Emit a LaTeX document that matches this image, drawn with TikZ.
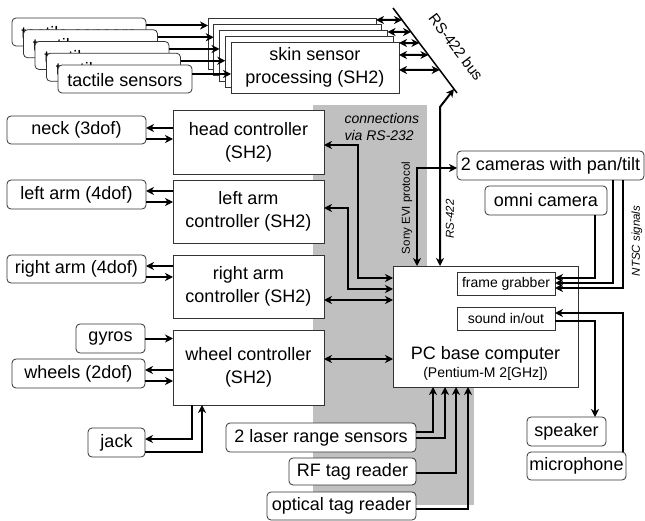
\documentclass[tikz,border=0pt]{standalone}
\usepackage{fontspec}
\setmainfont{Liberation Sans}
\usetikzlibrary{arrows.meta,calc}
\newcommand\fbig{\fontsize{18}{23}\selectfont}
\newcommand\fsmall{\fontsize{14}{17}\selectfont}
\newcommand\flab{\fontsize{11.5}{13}\selectfont}
\newcommand\fbus{\fontsize{15}{17}\selectfont}
\definecolor{bandgray}{RGB}{192,192,192}
\begin{document}
\begin{tikzpicture}[x=1pt,y=-1pt,
  box/.style={draw=black!80, line width=0.8pt, fill=white, inner sep=0pt, outer sep=0pt, align=center, font=\fbig},
  rbox/.style={box, rounded corners=4pt},
  tbox/.style={draw=black!80, line width=0.8pt, fill=white, inner sep=0pt, outer sep=0pt, rounded corners=4pt, font=\fbig, text height=16pt, text depth=0pt, minimum width=134pt, minimum height=28pt},
  sbox/.style={box, font=\fsmall},
  tip/.tip={Stealth[length=8pt,width=8pt,inset=2.5pt]},
  arr/.style={line width=2pt, -tip},
  darr/.style={line width=2pt, tip-tip},
  tarr/.style={line width=1.8pt, -tip},
]
\useasboundingbox (0,0) rectangle (645,521);

% gray band
\fill[bandgray] (313,105) rectangle (427,300);
\fill[bandgray] (313,300) rectangle (474,505);

% skin sensor processing stack
\foreach \i in {0,...,3} {
  \node[box, minimum width=168pt, minimum height=51pt] (s\i) at ({292+5.75*\i},{43.5+6*\i}) {};
}
\node[box, minimum width=168pt, minimum height=51pt] (s4) at (315,67.5) {skin sensor\\processing (SH2)};

% tactile sensors stack
\foreach \i in {0,...,4} {
  \node[tbox] (t\i) at ({79+11.5*\i},{32+11.75*\i}) {tactile sensors};
}
\foreach \i in {0,...,3} {
  \coordinate (ta\i) at ([yshift=6.5pt]t\i.east);
  \draw[arr] (ta\i) -- (ta\i -| s\i.west);
}
\coordinate (ta4) at ([yshift=5pt]t4.east);
\draw[arr] (ta4) -- (ta4 -| s4.west);

% RS-422 bus
\coordinate (busA) at (393,8);
\coordinate (busB) at (457,93);
\draw[line width=1.5pt] (busA) -- (busB);
\node[font=\fbus, rotate=-53] (buslabel) at (456,47) {RS-422 bus};
\draw[darr] ([yshift=-2pt]s0.north east) -- ($(busA)!0.141!(busB)$);
\draw[darr] ([yshift=-2pt]s2.north east) -- ($(busA)!0.282!(busB)$);
\draw[darr] ([yshift=-1pt]s4.north east) -- ($(busA)!0.412!(busB)$);
\draw[darr] ([yshift=-13pt]s4.north east) -- ($(busA)!0.553!(busB)$);
\draw[darr] ([yshift=-28pt]s4.north east) -- ($(busA)!0.729!(busB)$);

% controllers
\node[box, minimum width=151pt, minimum height=64pt] (head) at (248.5,142) {head controller\\(SH2)};
\node[box, minimum width=151pt, minimum height=63pt] (leftc) at (248.5,211.5) {left arm\\controller (SH2)};
\node[box, minimum width=151pt, minimum height=63pt] (rightc) at (248.5,286.5) {right arm\\controller (SH2)};
\node[box, minimum width=151pt, minimum height=75pt] (wheelc) at (248.5,367.5) {wheel controller\\(SH2)};

% left devices
\node[rbox, minimum width=139pt, minimum height=28pt] (neck) at (76.5,130) {neck (3dof)};
\node[rbox, minimum width=139pt, minimum height=29pt] (larm) at (76.5,194.5) {left arm (4dof)};
\node[rbox, minimum width=139pt, minimum height=28pt] (rarm) at (76.5,269) {right arm (4dof)};
\node[rbox, minimum width=69pt, minimum height=29pt] (gyros) at (110.5,338.5) {gyros};
\node[rbox, minimum width=133pt, minimum height=29pt] (wheels) at (78.5,373.5) {wheels (2dof)};
\node[rbox, minimum width=57pt, minimum height=29pt] (jack) at (116.5,442.5) {jack};

\coordinate (n1) at ([yshift=2pt]neck.east);
\coordinate (n2) at ([yshift=-9pt]neck.east);
\draw[arr] (n1 -| head.west) -- (n1);
\draw[arr] (n2) -- (n2 -| head.west);
\coordinate (l1) at ([yshift=3.5pt]larm.east);
\coordinate (l2) at ([yshift=-7.5pt]larm.east);
\draw[arr] (l1 -| leftc.west) -- (l1);
\draw[arr] (l2) -- (l2 -| leftc.west);
\coordinate (r1) at ([yshift=3pt]rarm.east);
\coordinate (r2) at ([yshift=-8pt]rarm.east);
\draw[arr] (r1 -| rightc.west) -- (r1);
\draw[arr] (r2) -- (r2 -| rightc.west);
\draw[arr] (gyros.east) -- (gyros.east -| wheelc.west);
\coordinate (w1) at ([yshift=3.5pt]wheels.east);
\coordinate (w2) at ([yshift=-7.5pt]wheels.east);
\draw[arr] (w1 -| wheelc.west) -- (w1);
\draw[arr] (w2) -- (w2 -| wheelc.west);
\coordinate (j1) at ([yshift=3.5pt]jack.east);
\coordinate (j2) at ([yshift=-9.5pt]jack.east);
\draw[arr] ([xshift=-56.5pt]wheelc.south) |- (j1);
\draw[arr] (j2) -| ([xshift=-46.5pt]wheelc.south);

% PC
\node[box, minimum width=185pt, minimum height=121pt] (pc) at (485.5,326.5) {};
\node[anchor=base, font=\fbig] (pct1) at (485.5,359) {PC base computer};
\node[anchor=base, font=\fsmall] (pct2) at (485.5,377) {(Pentium-M 2[GHz])};
\node[sbox, minimum width=98pt, minimum height=23pt] (fg) at (506,283.5) {frame grabber};
\node[sbox, minimum width=98pt, minimum height=23pt] (sound) at (506,318.5) {sound in/out};

% controllers <-> PC
\coordinate (h1) at ([yshift=-3pt]head.east);
\coordinate (hx) at (358,0);
\coordinate (p1) at ([yshift=48.5pt]pc.west);
\draw[darr] (h1) -- (h1 -| hx) -- (hx |- p1) -- (p1);
\coordinate (la1) at ([yshift=3.5pt]leftc.east);
\coordinate (lx) at (348,0);
\coordinate (p2) at ([yshift=37.5pt]pc.west);
\draw[darr] (la1) -- (la1 -| lx) -- (lx |- p2) -- (p2);
\coordinate (ra1) at ([yshift=-13.5pt]rightc.east);
\draw[darr] (ra1) -- (ra1 -| pc.west);
\coordinate (wa1) at ([yshift=8.5pt]wheelc.east);
\draw[darr] (wa1) -- (wa1 -| pc.west);

\node[anchor=west, align=left, font=\fsmall\itshape] (conn) at (341,126.5) {connections\\via RS-232};

% cameras
\node[rbox, minimum width=187pt, minimum height=29pt] (cams) at (550.5,165.5) {2 cameras with pan/tilt};
\node[rbox, minimum width=122pt, minimum height=29pt] (omni) at (546,200.5) {omni camera};
\draw[darr] ([xshift=-68.5pt]pc.north) |- ([yshift=-2.5pt]cams.west);
\node[font=\flab, rotate=90] (sony) at (407,208) {Sony EVI protocol};
\coordinate (rsp) at ([xshift=-45.5pt]pc.north);
\coordinate (rsk) at (440,107);
\coordinate (rsb) at ($(busA)!0.953!(busB)$);
\draw[darr] (rsp) -- (rsp |- rsk) -- (rsb);
\node[font=\flab\itshape, rotate=90] (rslab) at (450,219) {RS-422};

\draw[tarr] ([xshift=49pt]omni.south) |- ([yshift=5.5pt]fg.east);
\draw[tarr] ([xshift=62.5pt]cams.south) |- ([yshift=0.5pt]fg.east);
\draw[tarr] ([xshift=72.5pt]cams.south) |- ([yshift=-4.5pt]fg.east);
\node[font=\flab\itshape, rotate=90] (ntsc) at (637,241) {NTSC signals};

% audio
\node[rbox, minimum width=79pt, minimum height=29pt] (speaker) at (566.5,431.5) {speaker};
\node[rbox, minimum width=99pt, minimum height=28pt] (mic) at (576.5,466) {microphone};
\draw[arr] ([yshift=-2.5pt]sound.east) -| ([xshift=28.5pt]speaker.north);
\draw[arr] ([xshift=46.5pt]mic.north) |- ([yshift=5.5pt]sound.east);

% bottom sensors
\node[rbox, minimum width=190pt, minimum height=29pt] (laser) at (321,437.5) {2 laser range sensors};
\node[rbox, minimum width=127pt, minimum height=27pt] (rf) at (352.5,471.5) {RF tag reader};
\node[rbox, minimum width=149pt, minimum height=28pt] (optical) at (341.5,506) {optical tag reader};
\draw[arr] ([yshift=5.5pt]laser.east) -| ([xshift=-52.5pt]pc.south);
\draw[arr] ([yshift=-0.5pt]laser.east) -| ([xshift=-40.5pt]pc.south);
\draw[arr] ([yshift=-1.5pt]rf.east) -| ([xshift=-29.5pt]pc.south);
\draw[arr] ([yshift=-3pt]optical.east) -| ([xshift=-17.5pt]pc.south);
\end{tikzpicture}
\end{document}
